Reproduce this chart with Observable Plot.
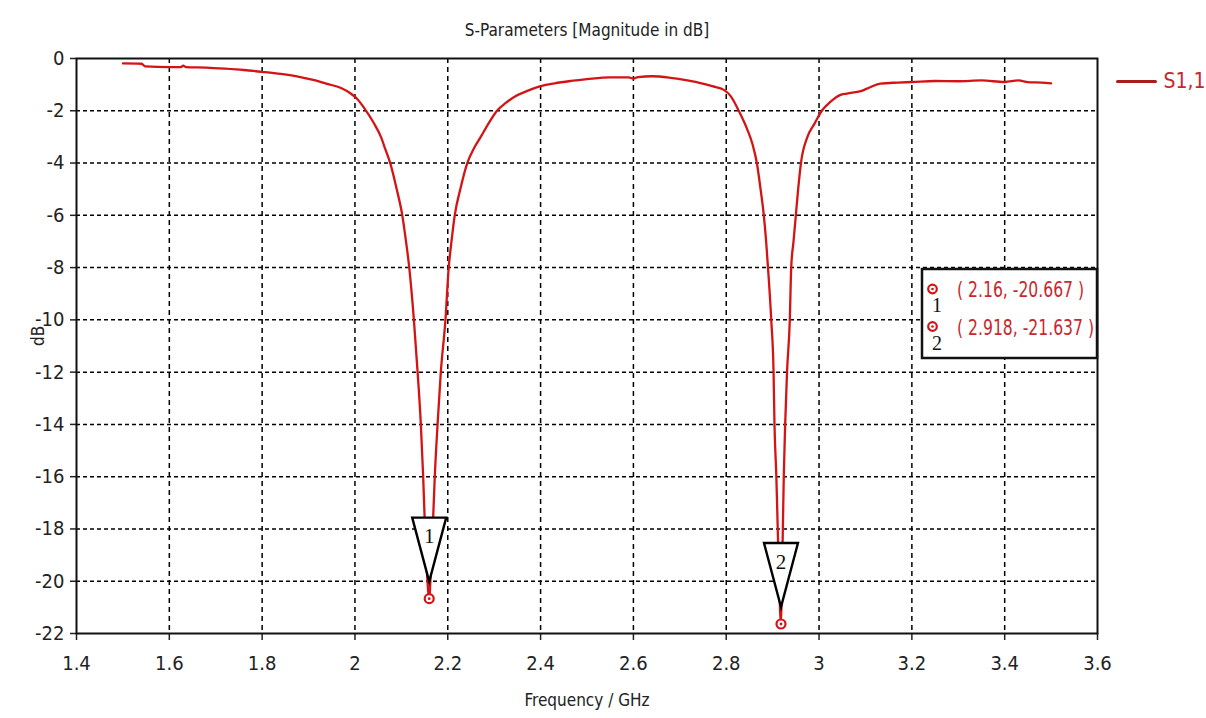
<!DOCTYPE html>
<html>
<head>
<meta charset="utf-8">
<script src="https://cdn.jsdelivr.net/npm/d3@7"></script>
<script src="https://cdn.jsdelivr.net/npm/@observablehq/plot@0.6"></script>
<style>
  html, body { margin: 0; padding: 0; background: #fff; }
  #chart { position: relative; width: 1206px; height: 718px; }
</style>
</head>
<body>
<div id="chart"></div>
<script>
// S1,1 magnitude sweep (GHz, dB)
const freq = [
  1.500, 1.540, 1.548, 1.600, 1.625, 1.630, 1.636, 1.680, 1.720, 1.760,
  1.800, 1.840, 1.880, 1.910, 1.940, 1.970, 1.990, 2.005, 2.020, 2.040,
  2.056, 2.066, 2.076, 2.090, 2.102, 2.110, 2.117, 2.127, 2.135, 2.142,
  2.147, 2.151, 2.155, 2.160, 2.164, 2.168, 2.172, 2.178, 2.185, 2.195,
  2.202, 2.208, 2.215, 2.227, 2.242, 2.256, 2.271, 2.289, 2.307, 2.325,
  2.343, 2.370, 2.400, 2.430, 2.465, 2.500, 2.550, 2.590, 2.600, 2.610,
  2.640, 2.680, 2.710, 2.740, 2.770, 2.795, 2.810, 2.827, 2.845, 2.857,
  2.866, 2.874, 2.881, 2.886, 2.890, 2.897, 2.902, 2.904, 2.908, 2.911,
  2.914, 2.918, 2.920, 2.922, 2.924, 2.927, 2.931, 2.937, 2.940, 2.945,
  2.950, 2.955, 2.961, 2.975, 2.990, 3.006, 3.025, 3.045, 3.060, 3.090,
  3.110, 3.132, 3.170, 3.200, 3.250, 3.300, 3.350, 3.400, 3.430, 3.450,
  3.480, 3.500
];
const s11 = [
  -0.19, -0.20, -0.30, -0.33, -0.33, -0.27, -0.33, -0.35, -0.39, -0.44,
  -0.51, -0.59, -0.70, -0.82, -0.97, -1.13, -1.33, -1.55, -1.90, -2.45,
  -3.00, -3.50, -4.00, -5.00, -6.00, -7.00, -8.00, -10.00, -12.00, -14.00,
  -16.00, -18.00, -19.60, -20.667, -19.40, -17.80, -16.00, -14.00, -12.00, -10.00,
  -8.00, -7.00, -6.00, -5.00, -4.00, -3.45, -3.00, -2.45, -1.98, -1.70,
  -1.47, -1.25, -1.06, -0.95, -0.86, -0.79, -0.72, -0.72, -0.77, -0.71,
  -0.68, -0.74, -0.82, -0.92, -1.06, -1.20, -1.45, -2.00, -2.70, -3.30,
  -4.00, -5.00, -6.00, -7.00, -8.00, -10.00, -12.00, -14.00, -16.00, -18.00,
  -20.00, -21.637, -20.00, -18.00, -16.00, -14.00, -12.00, -10.00, -8.00, -7.00,
  -6.00, -5.00, -4.00, -3.00, -2.50, -2.00, -1.65, -1.40, -1.34, -1.25,
  -1.10, -0.96, -0.92, -0.90, -0.86, -0.87, -0.84, -0.90, -0.84, -0.90,
  -0.92, -0.95
];

// Curve markers
const markerId = [1, 2];
const markerFreq = [2.16, 2.918];
const markerDb = [-20.667, -21.637];

// Axis ticks
const xTicks = [1.4, 1.6, 1.8, 2.0, 2.2, 2.4, 2.6, 2.8, 3.0, 3.2, 3.4, 3.6];
const yTicks = [0, -2, -4, -6, -8, -10, -12, -14, -16, -18, -20, -22];

const seriesName = "S1,1";
const titleText = "S-Parameters [Magnitude in dB]";
const xLabel = "Frequency / GHz";
const yLabel = "dB";

const curve = freq.map((f, i) => ({f, db: s11[i]}));
const markers = markerId.map((id, i) => ({id, f: markerFreq[i], db: markerDb[i]}));

const RED = "#d41414";
const TEXT_RED = "#c8282d";
const sansNarrow = "'Liberation Sans Narrow', 'DejaVu Sans Condensed', sans-serif";
const serif = "'Liberation Serif', 'DejaVu Serif', serif";

// Inverted marker flag: apex sits just above the point, wide top edge higher up
const flagShape = {
  draw(ctx) {
    ctx.moveTo(0, -17);
    ctx.lineTo(-17, -81);
    ctx.lineTo(17, -81);
    ctx.closePath();
  }
};
const lineShape = {
  draw(ctx, l) {
    ctx.moveTo(0, 0);
    ctx.lineTo(0, -l);
  }
};

const fmt = d => String(+d.toFixed(1));

const plot = Plot.plot({
  width: 1206,
  height: 718,
  marginLeft: 76,
  marginRight: 109,
  marginTop: 58,
  marginBottom: 85,
  style: {fontFamily: sansNarrow, fontSize: "20px", color: "#222", background: "#fff"},
  x: {domain: [1.4, 3.6]},
  y: {domain: [-22, 0]},
  marks: [
    Plot.gridX(xTicks.slice(1, -1), {stroke: "#000", strokeOpacity: 1, strokeWidth: 1.5, strokeDasharray: "5,4"}),
    Plot.gridY(yTicks.slice(1, -1), {stroke: "#000", strokeOpacity: 1, strokeWidth: 1.5, strokeDasharray: "4,3"}),
    Plot.axisX(xTicks, {tickSize: 7, tickPadding: 15, tickFormat: fmt, label: null, strokeWidth: 1.5}),
    Plot.axisY(yTicks, {tickSize: 6, tickPadding: 6, tickFormat: d => String(d), label: null, strokeWidth: 1.5}),
    Plot.frame({stroke: "#111", strokeWidth: 2}),
    Plot.line(curve, {x: "f", y: "db", stroke: RED, strokeWidth: 2.3, curve: "monotone-x"}),
    // marker flags
    Plot.vector(markers, {x: "f", y: "db", length: 81, anchor: "start", shape: flagShape,
      stroke: "#000", strokeWidth: 2.4, fill: "#fff", strokeLinejoin: "miter"}),
    Plot.text(markers, {x: "f", y: "db", text: d => String(d.id), dy: -62,
      fontFamily: serif, fontSize: 21, fill: "#111"}),
    Plot.dot(markers, {x: "f", y: "db", r: 4.5, stroke: RED, strokeWidth: 2.2, fill: "#fff"}),
    Plot.dot(markers, {x: "f", y: "db", r: 1.4, fill: RED}),
    // title and axis labels
    Plot.text([titleText], {frameAnchor: "top", lineAnchor: "middle", dy: -28, text: d => d, fontSize: 17, fill: "#222"}),
    Plot.text([xLabel], {frameAnchor: "bottom", lineAnchor: "middle", dy: 67, text: d => d, fontSize: 17, fill: "#222"}),
    Plot.text([yLabel], {frameAnchor: "left", dx: -38, rotate: -90, text: d => d, fontSize: 17, fill: "#222"}),
    // series legend
    Plot.vector([seriesName], {frameAnchor: "top-right", dx: 20, dy: 23, length: 38, rotate: 90,
      anchor: "start", shape: lineShape, stroke: "#a81e1e", strokeWidth: 3}),
    Plot.text([seriesName], {frameAnchor: "top-right", lineAnchor: "middle", dx: 66, dy: 23, text: d => d,
      textAnchor: "start", fontSize: 21, fill: TEXT_RED})
  ]
});

document.getElementById("chart").appendChild(plot);

// Marker readout box inside the plot frame
const svg = d3.select(plot);
const box = svg.append("g").attr("transform", "translate(922,269)").attr("text-anchor", "start");
box.append("rect")
  .attr("width", 175).attr("height", 89)
  .attr("fill", "#fff").attr("stroke", "#111").attr("stroke-width", 2.5);
markers.forEach((m, i) => {
  const cy = 20 + i * 37.5;
  box.append("circle").attr("cx", 10.5).attr("cy", cy).attr("r", 4.3)
    .attr("fill", "#fff").attr("stroke", RED).attr("stroke-width", 2.2);
  box.append("circle").attr("cx", 10.5).attr("cy", cy).attr("r", 1.3).attr("fill", RED);
  box.append("text").attr("x", 10).attr("y", cy + 23)
    .attr("text-anchor", "start")
    .attr("font-family", serif).attr("font-size", 20).attr("fill", "#111")
    .text(String(m.id));
  // narrow readout text, squeezed horizontally to fit the box
  box.append("text")
    .attr("transform", `translate(35,${cy + 8}) scale(0.79,1)`)
    .attr("text-anchor", "start")
    .attr("font-family", sansNarrow).attr("font-size", 22).attr("fill", TEXT_RED)
    .text(`( ${m.f}, ${m.db} )`);
});
</script>
</body>
</html>
